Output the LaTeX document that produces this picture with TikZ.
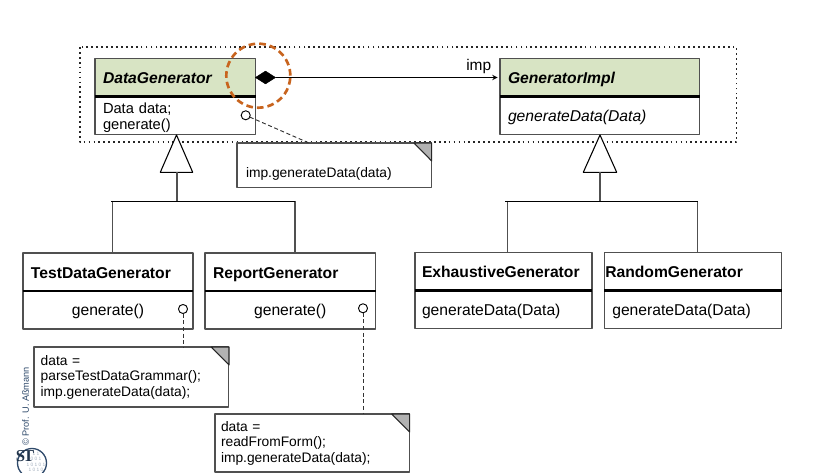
\documentclass[tikz,border=0pt]{standalone}
\usepackage{fontspec}
\setmainfont{Liberation Sans}
\newfontfamily\logoserif{Liberation Serif}
\usepackage{xcolor}
\definecolor{headgreen}{HTML}{D8E4C4}
\definecolor{notegray}{HTML}{B2B2B2}
\definecolor{ringorange}{HTML}{C8641E}
\definecolor{logoblue}{HTML}{2F4A6B}
\definecolor{edgegray}{HTML}{505050}
\usetikzlibrary{shapes.geometric}
\tikzset{
	classbase/.style 2 args={draw=edgegray, line width=0.8pt, anchor=north west, outer sep=0pt, inner ysep=0pt, inner xsep=#2*0.75pt, text width={(#1-2*#2)*0.75pt}, minimum height=28.5pt, align=left},
	classhead/.style 2 args={classbase={#1}{#2}, text height=11.5pt, text depth=2pt, font=\fontsize{11.75}{14}\selectfont\bfseries},
	classbody/.style 2 args={classbase={#1}{#2}, text height=10.5pt, text depth=2pt, font=\fontsize{11.75}{14}\selectfont},
	notebox/.style={draw=edgegray, line width=0.8pt, anchor=north west, outer sep=0pt, inner ysep=0pt, inner xsep=5pt, align=left, font=\fontsize{10.35}{11.6}\selectfont},
	septhick/.style={line width=1.6pt, black},
	genline/.style={draw=edgegray, line width=0.9pt},
	busline/.style={black, line width=0.65pt},
	notelink/.style={line width=0.7pt, dash pattern=on 3pt off 2pt, black!80},
	knob/.style={circle, draw=black, fill=white, line width=0.7pt, minimum size=6.8pt, inner sep=0pt, outer sep=0pt},
	fold/.style={draw=black!85, fill=notegray, line width=0.8pt},
}
\begin{document}
\begin{tikzpicture}[x=0.75pt, y=-0.75pt, >=stealth, line join=round]
	\useasboundingbox (0,0) rectangle (814,473);
	% pattern level
	\draw[line width=0.9pt, dash pattern=on 1.3pt off 2.4pt, black!85] (80,47) rectangle (736.5,142);
	\node[classhead={160.5}{8}, fill=headgreen, font=\fontsize{11.75}{14}\selectfont\bfseries\itshape] (datahead) at (95,58.5) {DataGenerator};
	\node[classbase={160.5}{8}, font=\fontsize{11}{12}\selectfont, anchor=north] (databody) at (datahead.south) {\rule{0pt}{12pt}Data data;\\generate()};
	\draw[septhick] (datahead.south west) -- (datahead.south east);
	\node[classhead={199.5}{8}, fill=headgreen, font=\fontsize{11.75}{14}\selectfont\bfseries\itshape] (implhead) at (500,58.5) {GeneratorImpl};
	\node[classbody={199.5}{8}, font=\fontsize{11.75}{14}\selectfont\itshape, anchor=north] (implbody) at (implhead.south) {generateData(Data)};
	\draw[septhick] (implhead.south west) -- (implhead.south east);
	% composition
	\node[diamond, fill=black, draw=black, minimum width=15pt, minimum height=9.5pt, inner sep=0pt, outer sep=0pt, anchor=west] (owner) at (datahead.east) {};
	\draw[->, line width=0.8pt] (owner.east) -- node[pos=0.915, above=-1pt, font=\fontsize{11.6}{14}\selectfont] (implabel) {imp} ([xshift=-1.8pt]implhead.west);
	\node[circle, draw=ringorange, line width=2pt, dash pattern=on 5pt off 3pt, minimum size=48pt, inner sep=0pt] (ring) at (258.3,75.7) {};
	% notes
	\node[knob] (dataknob) at (245.7,115.3) {};
	\node[notebox, inner xsep=6.75pt, text width=132.5pt, minimum height=33.5pt] (datanote) at (237,143) {\rule{0pt}{20.5pt}imp.generateData(data)};
	\draw[notelink] (dataknob) -- ([xshift=-19pt]datanote.north);
	\fill[fold] (414,143) -- (431.7,143) -- (431.7,161) -- cycle;
	% subclasses left
	\coordinate (triA) at (176.5,135);
	\draw[line width=0.8pt, fill=white] (triA) -- (160.3,172.3) -- (192.7,172.3) -- cycle;
	\coordinate (triAbase) at (177,172.3);
	\coordinate (busA) at (177,201);
	\coordinate (busAleft) at (111,201);
	\coordinate (busAright) at (295,201);
	\node[classhead={170}{8}] (testhead) at (23,253) {TestDataGenerator};
	\node[classbody={170}{0}, align=center, anchor=north] (testbody) at (testhead.south) {generate()};
	\draw[septhick] (testhead.south west) -- (testhead.south east);
	\node[classhead={170.5}{8}] (rephead) at (205,253) {ReportGenerator};
	\node[classbody={170.5}{0}, align=center, anchor=north] (repbody) at (rephead.south) {generate()};
	\draw[septhick] (rephead.south west) -- (rephead.south east);
	\draw[genline] (triAbase) -- (busA);
	\draw[genline] (busAright) -- (295,253);
	\draw[genline] (112.7,201) -- (112.7,253);
	\draw[busline] (busAleft) -- (busAright);
	% subclasses right
	\coordinate (triB) at (600,135);
	\draw[line width=0.8pt, fill=white] (triB) -- (583.3,172.3) -- (616.7,172.3) -- cycle;
	\coordinate (triBbase) at (600,172.3);
	\coordinate (busB) at (600,201);
	\coordinate (busBleft) at (505,201);
	\coordinate (busBright) at (697.7,201);
	\node[classhead={177}{7}] (exhead) at (415,252.5) {ExhaustiveGenerator};
	\node[classbody={177}{7}, anchor=north] (exbody) at (exhead.south) {generateData(Data)};
	\draw[septhick] (exhead.south west) -- (exhead.south east);
	\node[classhead={177.5}{1}] (randhead) at (604.3,252.5) {RandomGenerator};
	\node[classbody={177.5}{8}, anchor=north] (randbody) at (randhead.south) {generateData(Data)};
	\draw[septhick] (randhead.south west) -- (randhead.south east);
	\draw[genline] (triBbase) -- (busB);
	\draw[genline] (507.7,201) -- (507.7,252.5);
	\draw[genline] (busBright) -- (697.7,252.5);
	\draw[busline] (busBleft) -- (busBright);
	% lower notes
	\node[knob] (testknob) at (183,309) {};
	\node[notebox, text width=136pt, minimum height=45pt] (testnote) at (34,347) {data =\\parseTestDataGrammar();\\imp.generateData(data);};
	\draw[notelink] (testknob) -- (testknob |- testnote.north);
	\fill[fold] (211,347) -- (229,347) -- (229,365) -- cycle;
	\node[knob] (repknob) at (363,308.3) {};
	\node[notebox, inner xsep=4.5pt, text width=137pt, minimum height=43.5pt] (repnote) at (215,414) {data =\\readFromForm();\\imp.generateData(data);};
	\draw[notelink] (repknob) -- (repknob |- repnote.north);
	\fill[fold] (391.7,414) -- (409.7,414) -- (409.7,432) -- cycle;
	% logo
	\node[rotate=90, anchor=west, font=\fontsize{6.9}{9}\selectfont, text=logoblue, inner sep=0pt] (credit) at (25.5,446) {© Prof. U. Aßmann};
	\begin{scope}
		\clip (0,0) rectangle (814,473);
		\draw[logoblue, line width=1pt] (32,463) circle (14.5);
		\node[font=\fontsize{3.6}{4}\selectfont, text=logoblue!45, align=center, inner sep=0pt] (logodigits) at (36,462) {1 1\\0 0 1\\1 0 1 0 1\\1 0 1 0};
		\node[font=\logoserif\fontsize{12.5}{13}\selectfont\bfseries, inner sep=0pt, text=logoblue!70!black] (logotext) at (25,456.5) {S\kern-1.5pt T};
	\end{scope}
\end{tikzpicture}
\end{document}
